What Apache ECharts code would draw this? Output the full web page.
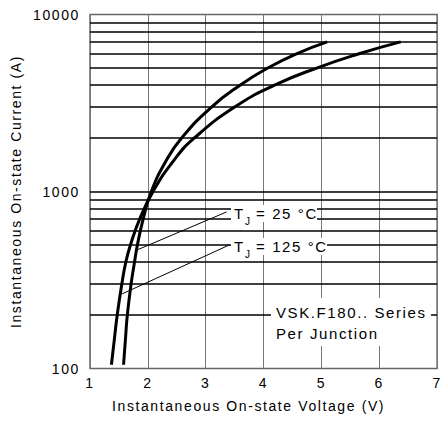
<!DOCTYPE html>
<html><head><meta charset="utf-8">
<script src="https://cdn.jsdelivr.net/npm/echarts@6/dist/echarts.min.js"></script>
<style>
html,body{margin:0;padding:0;background:#fff}
#c{width:444px;height:432px}
#c text{letter-spacing:1.6px}
</style>
</head><body><div id="c"></div>
<script>
// Axis ticks
const xTicks = [1, 2, 3, 4, 5, 6, 7];
const yTickLabels = [100, 1000, 10000];
// Horizontal grid lines (log decades subdivisions)
const gridCurrents = [200, 300, 400, 500, 600, 700, 800, 900, 1000,
  2000, 3000, 4000, 5000, 6000, 7000, 8000, 9000];
// Curve data: instantaneous current (A) and voltage (V)
const currentA = [105, 150, 200, 300, 400, 500, 700, 1000, 1500, 2000, 3000, 4000, 5000, 6000, 7000];
const volt25  = [1.58, 1.615, 1.645, 1.71, 1.77, 1.82, 1.92, 2.06, 2.32, 2.58, 3.10, 3.60, 4.08, 4.57, 5.10];
const volt125 = [1.37, 1.425, 1.47, 1.55, 1.62, 1.70, 1.86, 2.09, 2.45, 2.80, 3.50, 4.20, 4.93, 5.65, 6.37];
// Annotation leader lines [voltage, current]
const leader25  = [[3.36, 766], [1.81, 467]];
const leader125 = [[3.41, 499], [1.556, 264]];
const labels = ['T', 'J', '= 25 °C', '= 125 °C', 'VSK.F180.. Series', 'Per Junction'];

const FONT = '"Liberation Sans", Arial, sans-serif';
const chart = echarts.init(document.getElementById('c'), null, {renderer: 'svg'});

const toPts = (v, i) => v.map((x, k) => [x, i[k]]);

chart.setOption({
  animation: false,
  backgroundColor: '#fff',
  grid: {left: 90, right: 1.5, top: 14.5, bottom: 63.5, show: true, borderColor: '#666', borderWidth: 1.5, backgroundColor: 'transparent'},
  xAxis: {
    type: 'value', min: xTicks[0], max: xTicks[xTicks.length - 1], interval: 1,
    axisLine: {show: false}, axisTick: {show: false},
    splitLine: {show: true, lineStyle: {color: '#777', width: 1}},
    axisLabel: {color: '#000', fontSize: 14, fontFamily: FONT, margin: 7},
    name: 'Instantaneous On-state Voltage (V)', nameLocation: 'middle', nameGap: 30,
    nameTextStyle: {color: '#000', fontSize: 14, fontFamily: FONT, padding: [0, 30, 0, 0]}
  },
  yAxis: {
    type: 'log', logBase: 10, min: yTickLabels[0], max: yTickLabels[yTickLabels.length - 1],
    axisLine: {show: false}, axisTick: {show: false},
    splitLine: {show: false},
    axisLabel: {color: '#000', fontSize: 14, fontFamily: FONT, margin: 10,
      formatter: v => yTickLabels.includes(Math.round(v)) ? String(Math.round(v)) : ''},
    name: 'Instantaneous On-state Current (A)', nameLocation: 'middle', nameGap: 67,
    nameTextStyle: {color: '#000', fontSize: 14, fontFamily: FONT}
  },
  series: [
    {type: 'line', data: [], z: 1, silent: true,
      markLine: {silent: true, symbol: 'none', animation: false, label: {show: false},
        lineStyle: {color: '#000', width: 1.6, type: 'solid'},
        data: gridCurrents.map(v => ({yAxis: v}))}},
    {name: '25', type: 'line', data: toPts(volt25, currentA), smooth: 0.5, showSymbol: false, z: 3,
      lineStyle: {color: '#000', width: 3}},
    {name: '125', type: 'line', data: toPts(volt125, currentA), smooth: 0.5, showSymbol: false, z: 3,
      lineStyle: {color: '#000', width: 3}},
    {type: 'line', data: leader25, showSymbol: false, z: 4, lineStyle: {color: '#000', width: 1}},
    {type: 'line', data: leader125, showSymbol: false, z: 4, lineStyle: {color: '#000', width: 1}}
  ],
  graphic: [
    {type: 'rect', z: 100, shape: {x: 231, y: 205, width: 86, height: 17}, style: {fill: '#fff'}},
    {type: 'text', z: 101, style: {text: labels[0], x: 234, y: 213, font: '15px ' + FONT, fill: '#000', verticalAlign: 'middle'}},
    {type: 'text', z: 101, style: {text: labels[1], x: 245, y: 221, font: '10px ' + FONT, fill: '#000', verticalAlign: 'middle'}},
    {type: 'text', z: 101, style: {text: labels[2], x: 256, y: 213, font: '15px ' + FONT, fill: '#000', verticalAlign: 'middle'}},
    {type: 'rect', z: 100, shape: {x: 231, y: 238, width: 96, height: 17}, style: {fill: '#fff'}},
    {type: 'text', z: 101, style: {text: labels[0], x: 234, y: 246.5, font: '15px ' + FONT, fill: '#000', verticalAlign: 'middle'}},
    {type: 'text', z: 101, style: {text: labels[1], x: 245, y: 254.5, font: '10px ' + FONT, fill: '#000', verticalAlign: 'middle'}},
    {type: 'text', z: 101, style: {text: labels[3], x: 256, y: 246.5, font: '15px ' + FONT, fill: '#000', verticalAlign: 'middle'}},
    {type: 'rect', z: 100, shape: {x: 271, y: 298, width: 160, height: 48}, style: {fill: '#fff'}},
    {type: 'text', z: 101, style: {text: labels[4], x: 276, y: 312, font: '15px ' + FONT, fill: '#000', verticalAlign: 'middle'}},
    {type: 'text', z: 101, style: {text: labels[5], x: 276, y: 333, font: '15px ' + FONT, fill: '#000', verticalAlign: 'middle'}}
  ]
});
</script>
</body></html>
